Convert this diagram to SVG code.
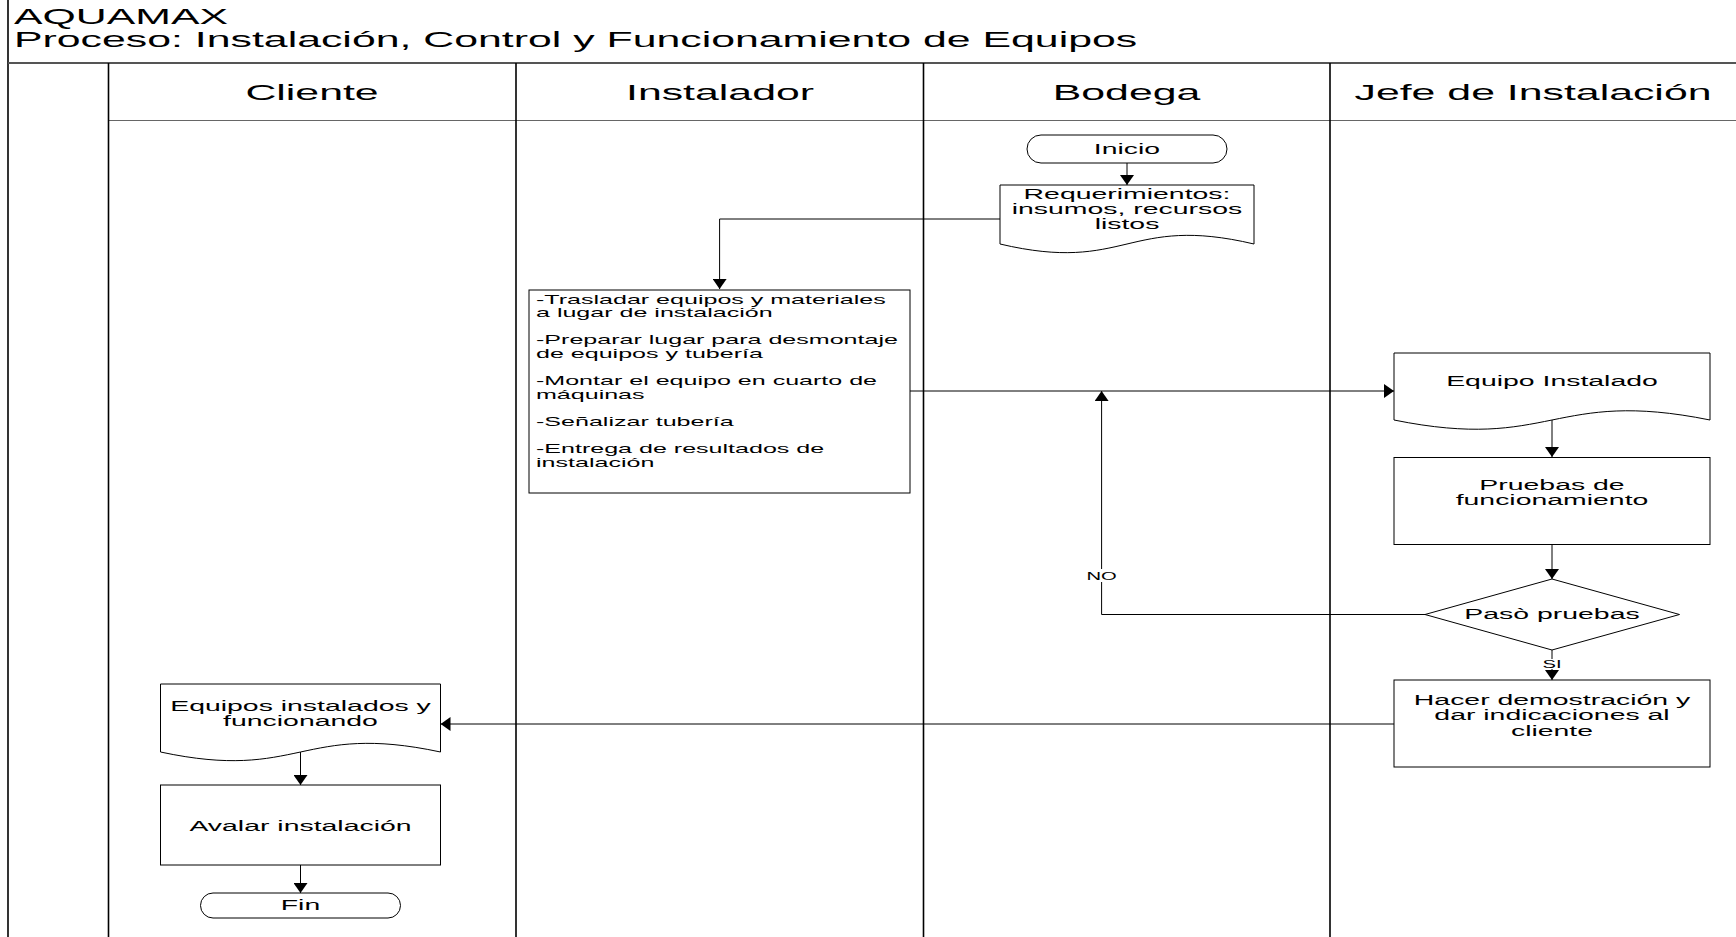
<svg xmlns="http://www.w3.org/2000/svg" width="1736" height="937" viewBox="0 0 1736 937">
  <style>
    text { font-family: "Liberation Sans", Arial, sans-serif; fill: #000; }
    .big { font-size: 22.9px; }
    .ctr { text-anchor: middle; }
    .main { font-size: 15.2px; text-anchor: middle; }
    .list { font-size: 13.4px; }
    .lbl { font-size: 10.8px; text-anchor: middle; }
    .shape { fill: #fff; stroke: #000; stroke-width: 1; }
    .lane { stroke: #000; stroke-width: 1.6; fill: none; }
    .band { stroke: #555; stroke-width: 2; fill: none; }
    .hdr { stroke: #666; stroke-width: 1; fill: none; }
    .conn { stroke: #000; stroke-width: 1; fill: none; marker-end: url(#ah); }
  </style>
  <defs>
    <marker id="ah" markerWidth="10" markerHeight="14" refX="10" refY="7" orient="auto" markerUnits="userSpaceOnUse">
      <path d="M0,0 L10,7 L0,14 z" fill="#000"/>
    </marker>
  </defs>

  <rect width="1736" height="937" fill="#fff"/>

  <!-- title block -->
  <g id="title">
    <line class="lane" x1="8" y1="0" x2="8" y2="937"/>
    <line class="band" x1="8" y1="63" x2="1736" y2="63"/>
    <text class="big" transform="translate(14,23.5) scale(1.87,1)">AQUAMAX</text>
    <text class="big" transform="translate(14,46.5) scale(1.87,1)">Proceso: Instalación, Control y Funcionamiento de Equipos</text>
  </g>

  <!-- swimlanes -->
  <g id="lanes">
    <line class="hdr" x1="108.5" y1="120.5" x2="1736" y2="120.5"/>
    <line class="lane" x1="108.5" y1="63" x2="108.5" y2="937"/>
    <line class="lane" x1="516" y1="63" x2="516" y2="937"/>
    <line class="lane" x1="923.5" y1="63" x2="923.5" y2="937"/>
    <line class="lane" x1="1330" y1="63" x2="1330" y2="937"/>
    <text class="big ctr" transform="translate(312,99.5) scale(1.87,1)">Cliente</text>
    <text class="big ctr" transform="translate(720,99.5) scale(1.87,1)">Instalador</text>
    <text class="big ctr" transform="translate(1126.5,99.5) scale(1.87,1)">Bodega</text>
    <text class="big ctr" transform="translate(1533,99.5) scale(1.87,1)">Jefe de Instalación</text>
  </g>

  <!-- connectors -->
  <g id="connectors">
    <path class="conn" d="M1127,163 V185"/>
    <path class="conn" d="M1000,219 H719.6 V289"/>
    <path class="conn" d="M910,391 H1394"/>
    <path class="conn" d="M1552,420 V457"/>
    <path class="conn" d="M1552,545 V579"/>
    <path class="conn" d="M1552,650 V680"/>
    <path class="conn" d="M1425,614.5 H1101.6 V391"/>
    <path class="conn" d="M1394,724 H440.5"/>
    <path class="conn" d="M300.5,752 V785"/>
    <path class="conn" d="M300.5,865 V893"/>
    <rect x="1090" y="569" width="23" height="13" fill="#fff"/>
    <text class="lbl" transform="translate(1101.6,579.5) scale(1.87,1)">NO</text>
    <rect x="1543" y="659" width="18" height="10" fill="#fff"/>
    <text class="lbl" transform="translate(1552,667.5) scale(1.87,1)">SI</text>
  </g>

  <g id="inicio">
    <rect class="shape" x="1027" y="135" width="200" height="28" rx="14"/>
    <text class="main" transform="translate(1127,153.5) scale(1.87,1)">Inicio</text>
  </g>

  <g id="requerimientos">
    <path class="shape" d="M1000,185 H1254 V244 C1127,214 1127,274 1000,244 Z"/>
    <text class="main" transform="translate(1127,198.5) scale(1.87,1)">Requerimientos:<tspan x="0" dy="15.3">insumos, recursos</tspan><tspan x="0" dy="15.3">listos</tspan></text>
  </g>

  <g id="tareas-instalador">
    <rect class="shape" x="529" y="290" width="381" height="203"/>
    <text class="list" transform="translate(536,303.5) scale(1.87,1)">-Trasladar equipos y materiales<tspan x="0" dy="13.6">a lugar de instalación</tspan><tspan x="0" dy="27.2">-Preparar lugar para desmontaje</tspan><tspan x="0" dy="13.6">de equipos y tubería</tspan><tspan x="0" dy="27.2">-Montar el equipo en cuarto de</tspan><tspan x="0" dy="13.6">máquinas</tspan><tspan x="0" dy="27.2">-Señalizar tubería</tspan><tspan x="0" dy="27.2">-Entrega de resultados de</tspan><tspan x="0" dy="13.6">instalación</tspan></text>
  </g>

  <g id="equipo-instalado">
    <path class="shape" d="M1394,353 H1710 V420 C1552,388 1552,452 1394,420 Z"/>
    <text class="main" transform="translate(1552,385.5) scale(1.87,1)">Equipo Instalado</text>
  </g>

  <g id="pruebas">
    <rect class="shape" x="1394" y="457.5" width="316" height="87"/>
    <text class="main" transform="translate(1552,490) scale(1.87,1)">Pruebas de<tspan x="0" dy="15.5">funcionamiento</tspan></text>
  </g>

  <g id="paso-pruebas">
    <path class="shape" d="M1552,579 L1679.5,614.5 L1552,650 L1425,614.5 Z"/>
    <text class="main" transform="translate(1552,619) scale(1.87,1)">Pasò pruebas</text>
  </g>

  <g id="demostracion">
    <rect class="shape" x="1394" y="680" width="316" height="87"/>
    <text class="main" transform="translate(1552,705) scale(1.87,1)">Hacer demostración y<tspan x="0" dy="15.5">dar indicaciones al</tspan><tspan x="0" dy="15.5">cliente</tspan></text>
  </g>

  <g id="equipos-funcionando">
    <path class="shape" d="M160.5,684 H440.5 V752 C300.5,722 300.5,782 160.5,752 Z"/>
    <text class="main" transform="translate(300.5,711) scale(1.87,1)">Equipos instalados y<tspan x="0" dy="15.5">funcionando</tspan></text>
  </g>

  <g id="avalar">
    <rect class="shape" x="160.5" y="785" width="280" height="80"/>
    <text class="main" transform="translate(300.5,830.5) scale(1.87,1)">Avalar instalación</text>
  </g>

  <g id="fin">
    <rect class="shape" x="200.5" y="893" width="200" height="25" rx="12.5"/>
    <text class="main" transform="translate(300.5,909.5) scale(1.87,1)">Fin</text>
  </g>
</svg>
